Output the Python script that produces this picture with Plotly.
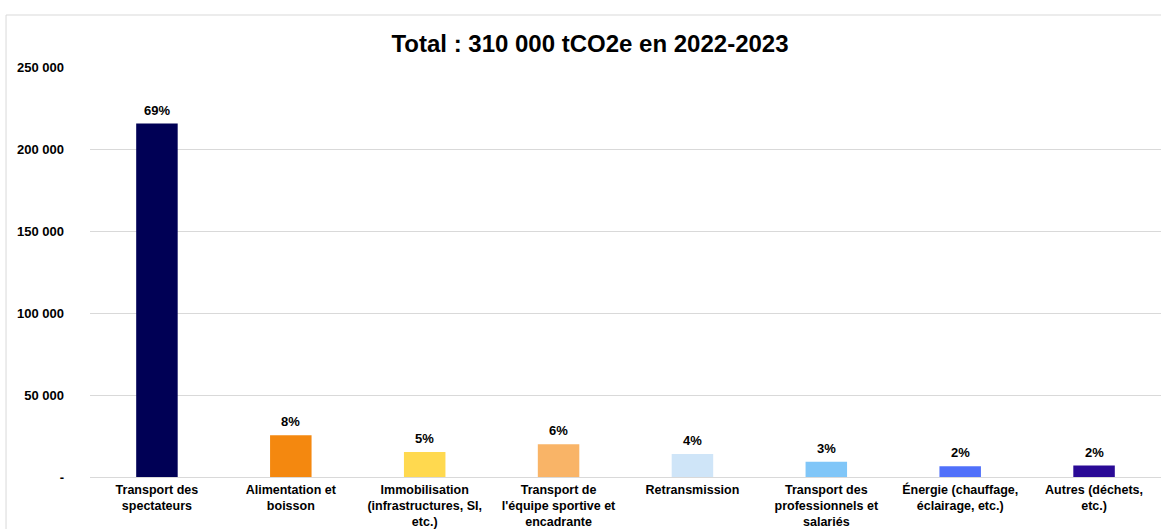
import plotly.graph_objects as go

categories = [
    "Transport des<br>spectateurs",
    "Alimentation et<br>boisson",
    "Immobilisation<br>(infrastructures, SI,<br>etc.)",
    "Transport de<br>l'équipe sportive et<br>encadrante",
    "Retransmission",
    "Transport des<br>professionnels et<br>salariés",
    "Énergie (chauffage,<br>éclairage, etc.)",
    "Autres (déchets,<br>etc.)",
]
emissions = [215500, 25500, 15300, 20000, 14000, 9300, 6600, 7000]
shares = ["69%", "8%", "5%", "6%", "4%", "3%", "2%", "2%"]
colors = ["#000055", "#F4880F", "#FFD94F", "#F9B467", "#CFE5F8", "#80C6F8", "#5070FA", "#2A0A96"]

y_ticks = [0, 50000, 100000, 150000, 200000, 250000]
y_ticktext = ["-", "50 000", "100 000", "150 000", "200 000", "250 000"]

FONT = "Liberation Sans, Arial, sans-serif"

fig = go.Figure(
    go.Bar(
        x=categories,
        y=emissions,
        width=0.31,
        marker=dict(color=colors, line=dict(width=0)),
        hoverinfo="skip",
    )
)

for cat, val, pct in zip(categories, emissions, shares):
    fig.add_annotation(
        x=cat, y=val, text=pct, showarrow=False,
        yanchor="bottom", yshift=4,
        font=dict(family=FONT, size=13, color="black", weight="bold"),
    )

# outer chart frame (cropped on right/bottom like the original screenshot)
fig.add_shape(type="line", xref="paper", yref="paper",
              x0=-0.0784, x1=1.01, y0=1.1268, y1=1.1268,
              line=dict(color="#D9D9D9", width=1))
fig.add_shape(type="line", xref="paper", yref="paper",
              x0=-0.0784, x1=-0.0784, y0=1.1268, y1=-0.2,
              line=dict(color="#D9D9D9", width=1))

fig.update_layout(
    width=1161, height=529,
    margin=dict(l=90, r=0, t=67, b=52),
    paper_bgcolor="white", plot_bgcolor="white",
    showlegend=False,
    title=dict(
        text="Total : 310 000 tCO2e en 2022-2023",
        x=590 / 1161, xanchor="center",
        y=1 - 44 / 529, yanchor="middle", yref="container",
        font=dict(family=FONT, size=24, color="black", weight="bold"),
    ),
    font=dict(family=FONT, color="black"),
)

fig.update_yaxes(
    range=[0, 250000],
    tickvals=y_ticks, ticktext=y_ticktext,
    showgrid=True, gridcolor="#D9D9D9", gridwidth=1,
    zeroline=True, zerolinecolor="#D9D9D9", zerolinewidth=1,
    showline=False, ticks="", automargin=False,
    ticklabelstandoff=25,
    tickfont=dict(family=FONT, size=13, color="black", weight="bold"),
)
fig.update_xaxes(
    showgrid=False, showline=False, ticks="",
    tickangle=0, ticklabelstandoff=3, automargin=False,
    tickfont=dict(family=FONT, size=12.5, color="black", weight="bold"),
)

fig.write_html(
    "out.html",
    config={"displayModeBar": False},
    post_script="document.body.style.margin='0';document.body.style.overflow='hidden';",
)
